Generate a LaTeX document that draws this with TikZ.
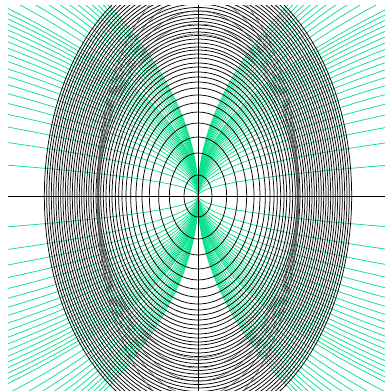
\documentclass[tikz,border=0pt]{standalone}
\definecolor{mint}{RGB}{10,225,140}
\tikzset{ell/.style={black,line width=0.75pt}, band/.style={black!70,line width=0.55pt}, traj/.style={mint,line width=0.75pt}, axis/.style={black,line width=0.8pt}}
\begin{document}
\begin{tikzpicture}[x=1pt,y=1pt]
\useasboundingbox (0,0) rectangle (385,-391);
\begin{scope}[shift={(198,-196)}]
\clip (-190,-195) rectangle (187,191);
\foreach \k in {5,15,...,185,205,225,...,405} {
  \pgfmathsetmacro\ym{min(200,14.142*sqrt(\k))}
  \draw[traj] plot[domain=-\ym:\ym,samples=81] ({\x/\k*\x},\x);
  \draw[traj] plot[domain=-\ym:\ym,samples=81] ({-\x/\k*\x},\x);
}
% inner family
\foreach \bb in {21,43,59,73,84,93,101,108,114,119,124,129,133,138,142,146,149,153} {
  \draw[ell] (0,0) ellipse [x radius=\bb/1.5, y radius=\bb];
}
% outer family
\foreach \bb in {157,160.5,...,232} {
  \draw[ell] (0,0) ellipse [x radius=\bb/1.5, y radius=\bb];
}
% dense band near the horizontal axis
\foreach \bb/\aa in {162/99.2,172/99.6,185/100,200/100.4,218/100.8} {
  \draw[band] (0,0) ellipse [x radius=\aa, y radius=\bb];
}
\coordinate (L) at (-190,0); \coordinate (R) at (187,0);
\coordinate (T) at (0,191); \coordinate (B) at (0,-195);
\draw[axis] (L) -- (R);
\draw[axis] (T) -- (B);
\end{scope}
\end{tikzpicture}
\end{document}
